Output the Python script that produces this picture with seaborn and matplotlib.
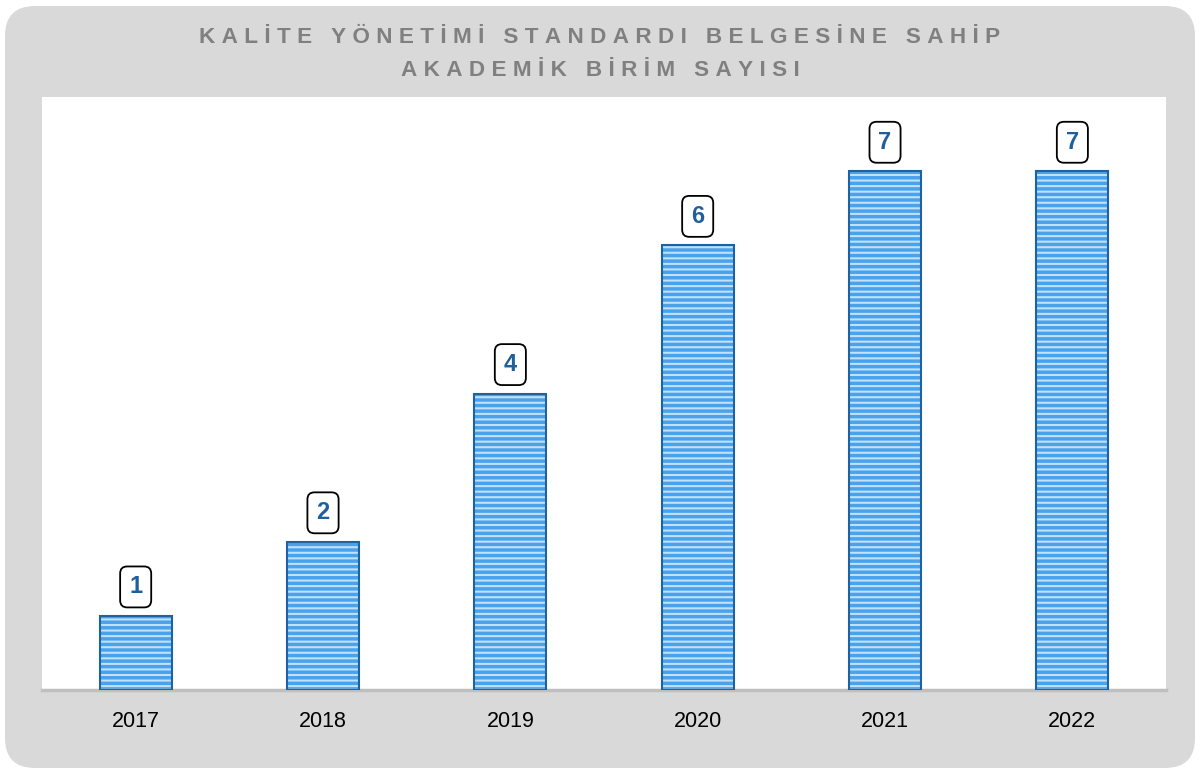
import matplotlib
matplotlib.use('Agg')
import matplotlib.pyplot as plt
import seaborn as sns
import pandas as pd
from matplotlib.patches import FancyBboxPatch, Rectangle

# Chart data
years = ['2017', '2018', '2019', '2020', '2021', '2022']
units = [1, 2, 4, 6, 7, 7]
title_lines = ['KALİTE YÖNETİMİ STANDARDI BELGESİNE SAHİP', 'AKADEMİK BİRİM SAYISI']

df = pd.DataFrame({'Year': years, 'Units': units})

sns.set_theme(style='white')
plt.rcParams['font.family'] = ['Liberation Sans', 'DejaVu Sans']
plt.rcParams['hatch.linewidth'] = 1.5

fig = plt.figure(figsize=(12, 7.71), dpi=100)
fig.patch.set_facecolor('white')

# rounded grey card behind everything
card = FancyBboxPatch((0.05, 0.03), 11.9, 7.62, boxstyle='round,pad=0,rounding_size=0.3',
                      transform=fig.dpi_scale_trans, facecolor='#d9d9d9', edgecolor='none', zorder=-10)
fig.patches.append(card)

ax = fig.add_axes([0.035, 0.105, 0.9367, 0.769])
ax.set_facecolor('white')

sns.barplot(data=df, x='Year', y='Units', ax=ax, width=0.385, color='#48a2ec', saturation=1)

for p in list(ax.patches):
    p.set_hatch('---')
    p.set_edgecolor('#c2e1fa')
    p.set_linewidth(0)
    ax.add_patch(Rectangle(p.get_xy(), p.get_width(), p.get_height(), fill=False,
                           edgecolor='#1f62a0', linewidth=1.5, zorder=3))

# value labels
for i, v in enumerate(units):
    ax.annotate(str(v), (i, v), xytext=(0, 29), textcoords='offset pixels',
                ha='center', va='center', fontsize=17, fontweight='bold', color='#1f5f9a',
                bbox=dict(boxstyle='round,pad=0.38,rounding_size=0.3', facecolor='white',
                          edgecolor='black', linewidth=1.3))

ax.set_ylim(0, 8)
ax.set_xlim(-0.5, 5.5)
ax.set_xlabel('')
ax.set_ylabel('')
ax.set_yticks([])
ax.tick_params(axis='x', length=0, labelsize=15.5, labelcolor='black', pad=15)
for s in ['top', 'left', 'right']:
    ax.spines[s].set_visible(False)
ax.spines['bottom'].set_color('#bfbfbf')
ax.spines['bottom'].set_linewidth(2.5)

# letter-spaced title
for line, y in zip(title_lines, [0.951, 0.908]):
    spaced = '\u2009\u200a'.join(line)
    fig.text(0.5, y, spaced, ha='center', va='center', fontsize=16.2, fontweight='bold', color='#808080')

fig.savefig('out.png', dpi=100)
